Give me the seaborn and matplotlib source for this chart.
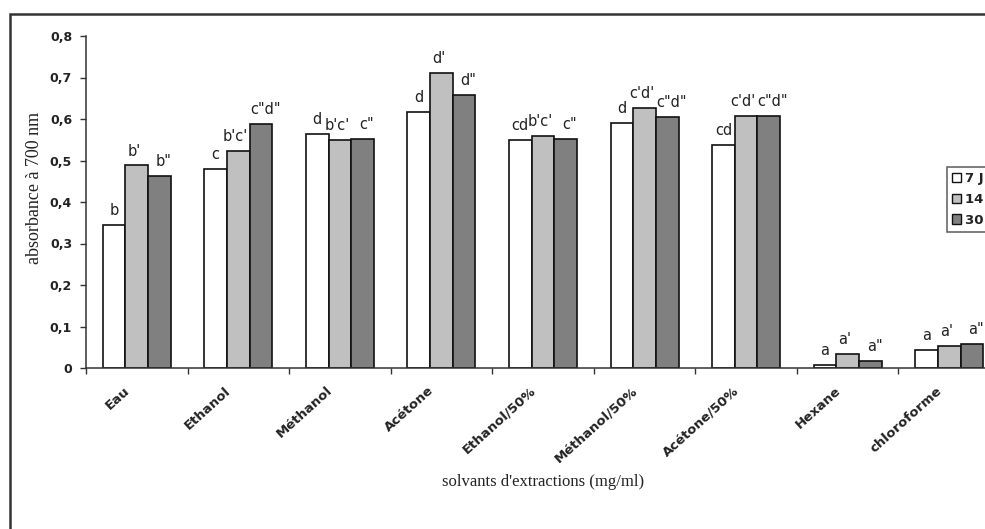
import matplotlib
matplotlib.use("Agg")
import matplotlib.pyplot as plt
import matplotlib.patches as mpatches
from matplotlib.ticker import FixedLocator, FuncFormatter
import seaborn as sns
import pandas as pd
import numpy as np

categories = ["Eau", "Ethanol", "Méthanol", "Acétone", "Ethanol/50%",
              "Méthanol/50%", "Acétone/50%", "Hexane", "chloroforme"]
series_names = ["7 J", "14 J", "30 J"]
vals_7j = [0.344, 0.480, 0.564, 0.616, 0.549, 0.590, 0.538, 0.007, 0.044]
vals_14j = [0.488, 0.522, 0.549, 0.712, 0.558, 0.627, 0.607, 0.034, 0.052]
vals_30j = [0.462, 0.588, 0.551, 0.659, 0.551, 0.606, 0.608, 0.016, 0.059]
letters_7j = ["b", "c", "d", "d", "cd", "d", "cd", "a", "a"]
letters_14j = ["b'", "b'c'", "b'c'", "d'", "b'c'", "c'd'", "c'd'", "a'", "a'"]
letters_30j = ['b"', 'c"d"', 'c"', 'd"', 'c"', 'c"d"', 'c"d"', 'a"', 'a"']
yticks = [0, 0.1, 0.2, 0.3, 0.4, 0.5, 0.6, 0.7, 0.8]

rows = []
for s, vals in zip(series_names, [vals_7j, vals_14j, vals_30j]):
    for c, v in zip(categories, vals):
        rows.append({"solvant": c, "serie": s, "val": v})
df = pd.DataFrame(rows)

sns.set_style("white")
plt.rcParams["font.family"] = ["DejaVu Sans"]
serif = ["Liberation Serif", "DejaVu Serif"]
txt_col = "#222222"

W, H = 985, 529
fig = plt.figure(figsize=(W / 100, H / 100), dpi=100)
# axes pixel box: left 86, right 1000, top 36, bottom 368
ax = fig.add_axes([86 / W, 1 - 368 / H, (1000 - 86) / W, (368 - 36) / H])

palette = ["#ffffff", "#c0c0c0", "#808080"]
sns.barplot(data=df, x="solvant", y="val", hue="serie", order=categories,
            hue_order=series_names, palette=palette, width=0.67,
            edgecolor="#111111", linewidth=1.2, ax=ax, errorbar=None, saturation=1)

ax.set_ylim(0, 0.8)
ax.set_xlim(-0.5, len(categories) - 0.5)
ax.set_yticks(yticks)
ax.yaxis.set_major_formatter(FuncFormatter(lambda v, p: ("%.1f" % v).replace(".", ",") if v > 0 else "0"))
for lab in ax.get_yticklabels():
    lab.set_fontweight("bold")
    lab.set_fontsize(9)
    lab.set_color(txt_col)

# x ticks: marks at group boundaries, labels near centers (nudged left like the original)
major_pos = np.arange(-0.5, len(categories), 1.0)
ax.xaxis.set_major_locator(FixedLocator(major_pos))
ax.xaxis.set_minor_locator(FixedLocator(np.arange(len(categories)) - 0.09))
ax.set_xticklabels([""] * len(major_pos))
ax.set_xticklabels(categories, minor=True, rotation=42, ha="right", va="center",
                   rotation_mode="anchor", fontweight="bold", fontsize=9.5, color=txt_col)
ax.tick_params(axis="x", which="minor", length=0, pad=15)
ax.tick_params(axis="x", which="major", length=4, width=1, direction="out", color="#333333", bottom=True)
ax.tick_params(axis="y", length=4, width=1, direction="out", color="#333333", left=True, pad=6)

for sp in ["top", "right"]:
    ax.spines[sp].set_visible(False)
for sp in ["left", "bottom"]:
    ax.spines[sp].set_color("#333333")
    ax.spines[sp].set_linewidth(1.1)

ax.set_ylabel("absorbance à 700 nm", family=serif, fontsize=13, color=txt_col)
ax.yaxis.set_label_coords(-0.047, 0.542)
ax.set_xlabel("")
fig.text(543 / W, 1 - 482 / H, "solvants d'extractions (mg/ml)", family=serif, fontsize=12,
         ha="center", va="center", color=txt_col)

# letter annotations
for cont, labs, dx in zip(ax.containers, [letters_7j, letters_14j, letters_30j], [0, -2, 3]):
    texts = ax.bar_label(cont, labels=labs, padding=5, fontsize=10.5, color=txt_col)
    for t in texts:
        t.xyann = (dx, t.xyann[1])

# legend
handles = [mpatches.Patch(facecolor=c, edgecolor="#111111", linewidth=1) for c in palette]
if ax.legend_ is not None:
    ax.legend_.remove()
leg = fig.legend(handles, series_names, loc="upper left",
                 bbox_to_anchor=(940 / W, 1 - 160 / H), frameon=True, fancybox=False,
                 edgecolor="#333333", handlelength=0.7, handleheight=0.7, handletextpad=0.3,
                 borderpad=0.4, labelspacing=0.6, prop={"weight": "bold", "size": 9.5})
for t in leg.get_texts():
    t.set_color(txt_col)
leg.get_frame().set_linewidth(1.1)

# outer frame (cropped at right and bottom)
frame = mpatches.Rectangle((10 / W, -0.05), 1.2, 1 - 14 / H + 0.05, transform=fig.transFigure,
                           fill=False, edgecolor="#333333", linewidth=1.8, clip_on=False)
fig.patches.append(frame)

fig.savefig("out.png", dpi=100)
